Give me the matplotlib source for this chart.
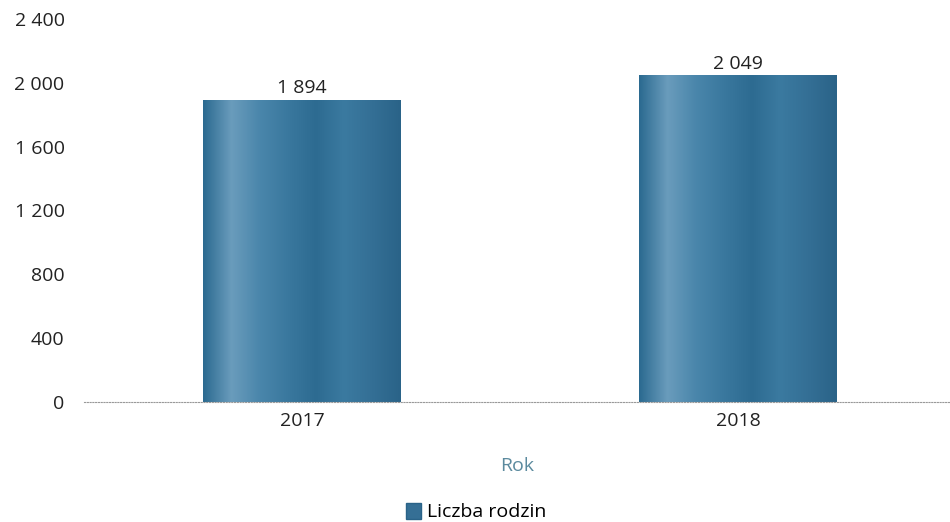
import matplotlib.pyplot as plt
import numpy as np
from matplotlib.colors import LinearSegmentedColormap
from matplotlib.patches import Patch

# Dane
lata = ["2017", "2018"]
liczba_rodzin = [1894, 2049]
y_ticks = [0, 400, 800, 1200, 1600, 2000, 2400]

plt.rcParams['font.family'] = ['Open Sans', 'DejaVu Sans']


def fmt(v):
    return f"{v:,}".replace(",", " ")


fig = plt.figure(figsize=(9.5, 5.22), dpi=100)
ax = fig.add_axes([0.0884, 0.23, 0.9116, 0.7337])

x = np.arange(len(lata))
bars = ax.bar(x, liczba_rodzin, width=0.454, color='#3a7aa0', zorder=2)

# lekki gradient jak na skanie
cmap = LinearSegmentedColormap.from_list(
    'slupek', ['#2b6a90', '#6a9cbc', '#4a86ab', '#3a789e', '#2d6b91',
               '#3b7aa0', '#346f95', '#2a6388'])
grad = np.linspace(0, 1, 256).reshape(1, -1)
for b in bars:
    x0, y0 = b.get_x(), b.get_y()
    im = ax.imshow(grad, cmap=cmap, aspect='auto', zorder=2,
                   extent=(x0, x0 + b.get_width(), y0, y0 + b.get_height()))
    im.set_clip_path(b)

for xi, v in zip(x, liczba_rodzin):
    ax.text(xi, v + 15, fmt(v), ha='center', va='bottom', fontsize=14,
            color='#222222')

ax.set_xlim(-0.5, 1.486)
ax.set_ylim(0, 2400)
ax.set_yticks(y_ticks)
ax.set_yticklabels([fmt(t) for t in y_ticks], fontsize=14, color='#222222')
ax.set_xticks(x)
ax.set_xticklabels(lata, fontsize=14, color='#222222')
ax.tick_params(axis='both', length=0)
ax.tick_params(axis='y', pad=14)
ax.tick_params(axis='x', pad=7)

for s in ['top', 'right', 'left']:
    ax.spines[s].set_visible(False)
ax.spines['bottom'].set_linestyle((0, (1, 1.5)))
ax.spines['bottom'].set_color('#999999')
ax.spines['bottom'].set_linewidth(0.8)

ax.set_xlabel("Rok", fontsize=14, color='#5b8a9e', labelpad=20)

ax.legend(handles=[Patch(facecolor='#356f95', edgecolor='#2a6388')],
          labels=["Liczba rodzin"], loc='upper center',
          bbox_to_anchor=(0.453, -0.217), frameon=False, fontsize=14,
          handlelength=0.8, handleheight=0.9, handletextpad=0.3)

fig.savefig("out.png", dpi=100)
